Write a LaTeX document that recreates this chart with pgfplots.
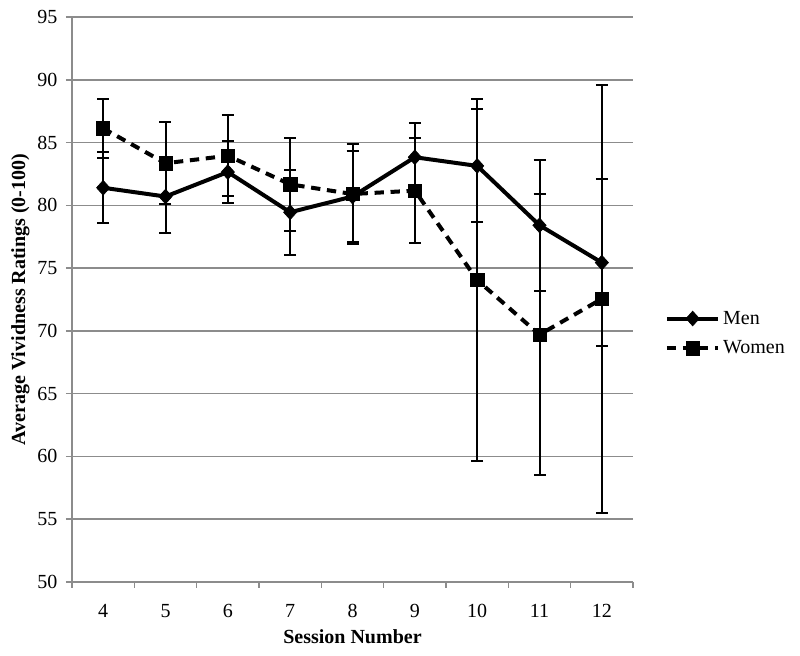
\documentclass[border=0pt]{standalone}
\usepackage{fontspec}
\setmainfont{Liberation Serif}
\usepackage{pgfplots}
\pgfplotsset{compat=1.18}

\definecolor{gridgray}{RGB}{140,140,140}

\begin{document}
\begin{tikzpicture}
\useasboundingbox (-54pt,-55.5pt) rectangle (546pt,436.5pt);
\begin{axis}[
  scale only axis,
  width=420.75pt, height=423.75pt,
  xmin=3.5, xmax=12.5,
  ymin=50, ymax=95,
  ytick={50,55,...,95},
  xtick={3.5,4.5,...,12.5},
  xticklabels={},
  extra x ticks={4,5,...,12},
  extra x tick labels={4,5,6,7,8,9,10,11,12},
  extra x tick style={major tick length=0pt},
  axis x line*=bottom,
  axis y line*=left,
  axis line style={gridgray, line width=1.1pt, -},
  tick style={gridgray, line width=1.1pt},
  tick align=outside,
  major tick length=4.5pt,
  ymajorgrids,
  grid style={gridgray, line width=1.1pt},
  /pgf/number format/assume math mode=true,
  tick label style={font=\fontsize{15}{17}\selectfont},
  xticklabel style={yshift=-13pt},
  yticklabel style={xshift=-3pt},
  xlabel={\textbf{Session Number}},
  ylabel={\textbf{Average Vividness Ratings (0-100)}},
  label style={font=\fontsize{15}{18}\selectfont},
  xlabel style={yshift=2pt},
  ylabel style={yshift=-1pt},
  legend style={draw=none, fill=none, at={(1.054,0.44)}, anchor=west,
    font=\fontsize{15}{17}\selectfont, row sep=7pt, inner sep=1pt,
    nodes={inner sep=2pt}},
  legend cell align=left,
  legend image code/.code={
    \draw[mark repeat=2,mark phase=2,#1] plot coordinates {(0cm,0cm) (0.68cm,0cm) (1.36cm,0cm)};
  },
]
\addplot[black, line width=3pt, mark=diamond*, mark size=5.5pt,
  mark options={solid, line width=0.5pt, xscale=1.2},
  error bars/.cd, y dir=both, y explicit,
  error bar style={solid, line width=1.5pt},
  error mark options={rotate=90, mark size=4.5pt, line width=1.5pt, solid}]
coordinates {
  (4, 81.40)  +- (0, 2.82)
  (5, 80.70)  +- (0, 2.87)
  (6, 82.65)  +- (0, 2.48)
  (7, 79.45)  +- (0, 3.37)
  (8, 80.70)  +- (0, 3.60)
  (9, 83.83)  +- (0, 2.71)
  (10, 83.14) +- (0, 4.50)
  (11, 78.41) +- (0, 5.20)
  (12, 75.44) +- (0, 6.64)
};
\addlegendentry{Men}

\addplot[black, line width=3pt, dash pattern=on 7pt off 5pt, mark=square*, mark size=5pt,
  mark options={solid, line width=0.5pt},
  error bars/.cd, y dir=both, y explicit,
  error bar style={solid, line width=1.5pt},
  error mark options={rotate=90, mark size=4.5pt, line width=1.5pt, solid}]
coordinates {
  (4, 86.13)  +- (0, 2.33)
  (5, 83.35)  +- (0, 3.25)
  (6, 83.95)  +- (0, 3.23)
  (7, 81.67)  +- (0, 3.68)
  (8, 80.90)  +- (0, 4.00)
  (9, 81.17)  +- (0, 4.17)
  (10, 74.05) +- (0, 14.38)
  (11, 69.70) +- (0, 11.17)
  (12, 72.55) +- (0, 17.05)
};
\addlegendentry{Women}
\end{axis}
\end{tikzpicture}
\end{document}
